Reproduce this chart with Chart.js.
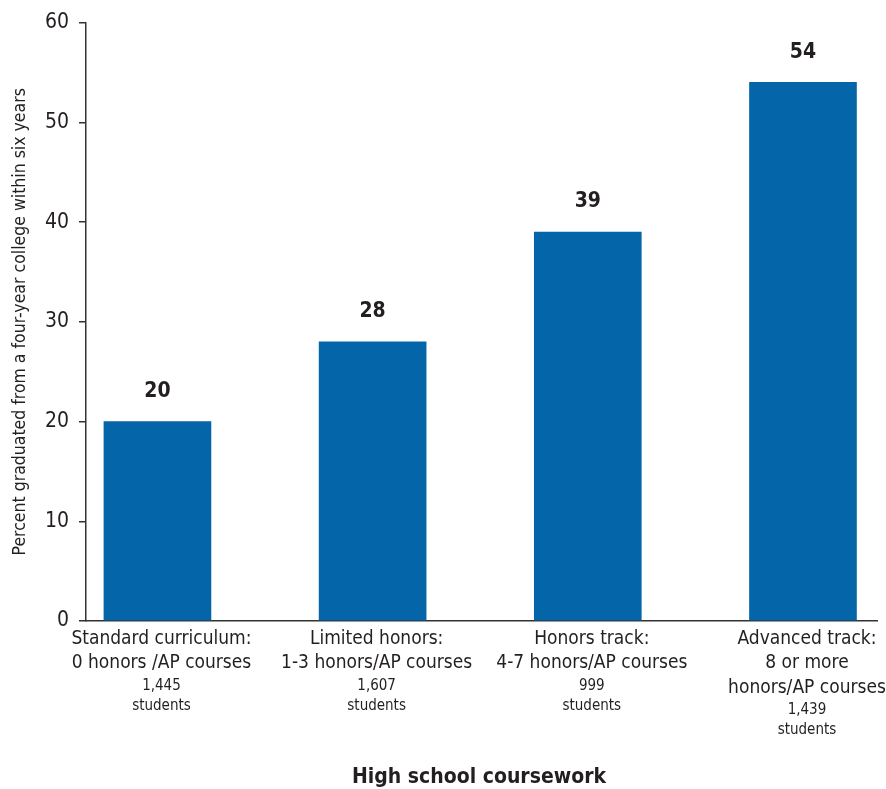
<!DOCTYPE html>
<html>
<head>
<meta charset="utf-8">
<script src="https://cdn.jsdelivr.net/npm/chart.js@4"></script>
<style>
  html, body { margin: 0; padding: 0; background: #fff; }
  #wrap { width: 886px; height: 789px; }
</style>
</head>
<body>
<div id="wrap"><canvas id="chart" width="886" height="789"></canvas></div>
<script>
const categories = [
  ['Standard curriculum:', '0 honors /AP courses'],
  ['Limited honors:', '1-3 honors/AP courses'],
  ['Honors track:', '4-7 honors/AP courses'],
  ['Advanced track:', '8 or more', 'honors/AP courses']
];
const studentCounts = ['1,445', '1,607', '999', '1,439'];
const gradPercent = [20, 28, 39, 54];
const yTicks = [0, 10, 20, 30, 40, 50, 60];

const FONT = "'Liberation Sans Narrow', 'DejaVu Sans Condensed', 'Arial Narrow', sans-serif";
const INK = '#231f20';

// value labels above the bars
const valueLabels = {
  id: 'valueLabels',
  afterDatasetsDraw(chart) {
    const ctx = chart.ctx;
    const meta = chart.getDatasetMeta(0);
    ctx.save();
    ctx.font = 'bold 21px ' + FONT;
    ctx.fillStyle = INK;
    ctx.textAlign = 'center';
    ctx.textBaseline = 'middle';
    meta.data.forEach((bar, i) => {
      ctx.fillText(String(gradPercent[i]), bar.x, bar.y - 30);
    });
    ctx.restore();
  }
};

// category labels + axis title under the x axis
const categoryLabels = {
  id: 'categoryLabels',
  afterDraw(chart) {
    const ctx = chart.ctx;
    const xs = chart.scales.x;
    const base = chart.chartArea.bottom;
    ctx.save();
    ctx.fillStyle = INK;
    ctx.textAlign = 'center';
    ctx.textBaseline = 'middle';
    categories.forEach((lines, i) => {
      const cx = xs.getPixelForValue(i) + 4;
      let y = base + 18;
      ctx.font = '19px ' + FONT;
      lines.forEach(t => { ctx.fillText(t, cx, y); y += 24.5; });
      y -= 2;
      ctx.font = '15px ' + FONT;
      ctx.fillText(studentCounts[i], cx, y);
      ctx.fillText('students', cx, y + 20);
    });
    ctx.font = 'bold 21px ' + FONT;
    ctx.fillText('High school coursework', 479, 778);
    ctx.restore();
  }
};

new Chart(document.getElementById('chart'), {
  type: 'bar',
  data: {
    datasets: [{
      data: gradPercent.map((v, i) => ({ x: i, y: v })),
      backgroundColor: '#0465a9',
      borderWidth: 0,
      barThickness: 107
    }]
  },
  options: {
    responsive: false,
    animation: false,
    layout: { padding: { top: 22, right: 9, left: 0, bottom: 0 } },
    plugins: { legend: { display: false }, tooltip: { enabled: false } },
    scales: {
      x: {
        type: 'linear',
        offset: false,
        min: -0.332,
        max: 3.344,
        grid: { display: false },
        ticks: { display: false },
        border: { display: true, color: '#333', width: 1.5 },
        afterFit(scale) { scale.height = 168; }
      },
      y: {
        min: 0,
        max: 60,
        afterBuildTicks(scale) { scale.ticks = yTicks.map(v => ({ value: v })); },
        ticks: { color: INK, font: { family: FONT, size: 21 }, padding: 10 },
        grid: { drawOnChartArea: false, drawTicks: true, tickLength: 7, color: '#333', lineWidth: 1.5 },
        border: { display: true, color: '#333', width: 1.5 },
        title: {
          display: true,
          text: 'Percent graduated from a four-year college within six years',
          color: INK,
          font: { family: FONT, size: 17.5 },
          padding: { top: 10, bottom: 0 }
        },
        afterFit(scale) { scale.width = 86; }
      }
    }
  },
  plugins: [valueLabels, categoryLabels]
});
</script>
</body>
</html>
